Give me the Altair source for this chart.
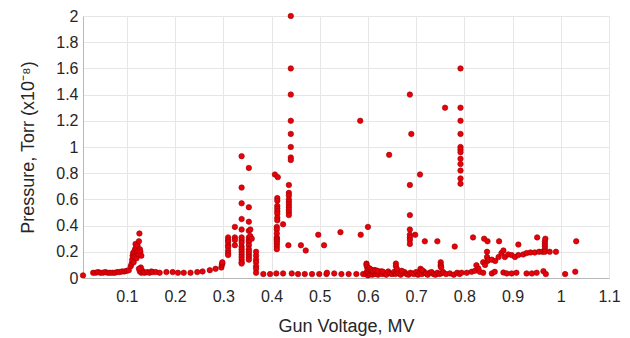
import altair as alt
import pandas as pd

# ---- data (Gun Voltage MV, Pressure x1e-8 Torr) ----
base1_v = [0.009, 0.03, 0.035, 0.04, 0.045, 0.05, 0.055, 0.06, 0.065, 0.07, 0.075, 0.08, 0.085, 0.09, 0.095, 0.1, 0.104]
base1_p = [0.02, 0.04, 0.04, 0.045, 0.04, 0.04, 0.045, 0.04, 0.04, 0.04, 0.04, 0.045, 0.045, 0.05, 0.05, 0.055, 0.06]

peak1_v = [0.108, 0.11, 0.111, 0.112, 0.113, 0.114, 0.115, 0.116, 0.117, 0.118, 0.119, 0.12, 0.121, 0.122, 0.123,
           0.124, 0.125, 0.126, 0.127, 0.128, 0.129, 0.13, 0.131, 0.127, 0.125]
peak1_p = [0.09, 0.11, 0.14, 0.17, 0.19, 0.12, 0.2, 0.16, 0.22, 0.26, 0.23, 0.15, 0.19, 0.25, 0.21,
           0.18, 0.28, 0.34, 0.22, 0.2, 0.08, 0.17, 0.06, 0.05, 0.07]

base2_v = [0.13, 0.134, 0.137, 0.142, 0.147, 0.151, 0.154, 0.16, 0.168, 0.182, 0.195, 0.206, 0.218, 0.232, 0.246,
           0.257, 0.272, 0.284, 0.296, 0.297, 0.298, 0.298]
base2_p = [0.04, 0.045, 0.04, 0.045, 0.04, 0.05, 0.045, 0.045, 0.04, 0.045, 0.045, 0.04, 0.04, 0.04, 0.045,
           0.05, 0.06, 0.07, 0.08, 0.1, 0.11, 0.12]

clus3_v = [0.31] * 8 + [0.324] * 4 + [0.338] * 16 + [0.353] * 13 + [0.356, 0.356, 0.359] + [0.368] * 7
clus3_p = [0.31, 0.29, 0.275, 0.25, 0.237, 0.21, 0.19, 0.175,
           0.39, 0.31, 0.29, 0.25,
           0.93, 0.69, 0.57, 0.45, 0.37, 0.31, 0.29, 0.27, 0.24, 0.22, 0.2, 0.18, 0.16, 0.14, 0.12, 0.11,
           0.84, 0.54, 0.43, 0.36, 0.31, 0.29, 0.275, 0.25, 0.22, 0.2, 0.18, 0.16, 0.14,
           0.37, 0.32, 0.3,
           0.2, 0.17, 0.14, 0.12, 0.09, 0.07, 0.04]

base3_v = [0.383, 0.397, 0.41, 0.424, 0.442, 0.455, 0.469, 0.484, 0.499, 0.514, 0.515, 0.53, 0.545, 0.56, 0.576, 0.59]
base3_p = [0.03, 0.03, 0.035, 0.035, 0.035, 0.03, 0.03, 0.03, 0.03, 0.03, 0.04, 0.035, 0.03, 0.03, 0.03, 0.03]

clus4_v = [0.407, 0.413] + [0.412] * 8 + [0.411] * 10 + [0.424, 0.435] + [0.436] * 10 + [0.44] * 8 + [0.461, 0.471]
clus4_p = [0.79, 0.77,
           0.61, 0.59, 0.55, 0.53, 0.51, 0.49, 0.46, 0.44,
           0.39, 0.37, 0.34, 0.31, 0.3, 0.29, 0.275, 0.26, 0.24, 0.22,
           0.41, 0.25,
           0.71, 0.65, 0.63, 0.6, 0.58, 0.56, 0.54, 0.52, 0.5, 0.48,
           2.0, 1.6, 1.4, 1.2, 1.1, 1.0, 0.92, 0.9,
           0.25, 0.21]

mid_v = [0.497, 0.509, 0.543, 0.584, 0.585, 0.6, 0.644, 0.687, 0.69, 0.687, 0.687, 0.687, 0.687, 0.687, 0.687,
         0.687, 0.698, 0.708, 0.718, 0.744, 0.76, 0.78] + [0.792] * 12
mid_p = [0.33, 0.25, 0.35, 1.2, 0.33, 0.39, 0.94, 1.4, 1.1, 0.71, 0.48, 0.37, 0.33, 0.31, 0.29,
         0.26, 0.33, 0.79, 0.28, 0.28, 1.3, 0.24,
         1.6, 1.3, 1.2, 1.1, 1.0, 0.98, 0.96, 0.91, 0.87, 0.82, 0.76, 0.72]

dense_v = [0.596, 0.598, 0.6, 0.601, 0.603, 0.605, 0.607, 0.609, 0.611, 0.613, 0.615, 0.618, 0.621, 0.624, 0.627,
           0.63, 0.634, 0.638, 0.642, 0.646, 0.65, 0.654, 0.657, 0.66, 0.664, 0.668, 0.672, 0.676, 0.68, 0.684,
           0.688, 0.692, 0.696, 0.7, 0.704, 0.708, 0.712, 0.716, 0.72, 0.724, 0.728, 0.732, 0.736, 0.74, 0.744,
           0.748, 0.752, 0.756, 0.762, 0.77, 0.778, 0.785, 0.79]
dense_p = [0.03, 0.05, 0.02, 0.04, 0.06, 0.03, 0.05, 0.025, 0.04, 0.06, 0.03, 0.045, 0.025, 0.04, 0.05,
           0.03, 0.04, 0.025, 0.05, 0.035, 0.03, 0.045, 0.03, 0.05, 0.035, 0.025, 0.04, 0.045, 0.03, 0.025,
           0.04, 0.035, 0.03, 0.045, 0.025, 0.04, 0.03, 0.05, 0.035, 0.025, 0.04, 0.045, 0.03, 0.025, 0.04,
           0.03, 0.035, 0.045, 0.03, 0.035, 0.025, 0.04, 0.03]

bump_v = [0.597, 0.597, 0.598, 0.6, 0.603, 0.606, 0.61, 0.615, 0.62, 0.63, 0.658, 0.658, 0.66, 0.67,
          0.709, 0.712, 0.751, 0.751, 0.751, 0.752]
bump_p = [0.11, 0.1, 0.085, 0.07, 0.075, 0.065, 0.055, 0.06, 0.055, 0.05, 0.11, 0.09, 0.07, 0.055,
          0.07, 0.06, 0.12, 0.1, 0.09, 0.08]

high_v = [0.818, 0.841, 0.848, 0.872, 0.912, 0.951, 1.032]
high_p = [0.31, 0.3, 0.28, 0.28, 0.255, 0.31, 0.28]

trend_v = [0.839, 0.843, 0.847, 0.847, 0.848, 0.85, 0.857, 0.864, 0.871, 0.877, 0.881, 0.884, 0.891, 0.898, 0.905,
           0.912, 0.922, 0.929, 0.937, 0.946, 0.955, 0.962, 0.967, 0.967, 0.967, 0.967, 0.967, 0.968, 0.977, 0.99]
trend_p = [0.12, 0.1, 0.2, 0.16, 0.13, 0.14, 0.14, 0.13, 0.16, 0.19, 0.21, 0.16, 0.18, 0.175, 0.16,
           0.175, 0.18, 0.19, 0.195, 0.195, 0.2, 0.2, 0.2, 0.22, 0.24, 0.26, 0.28, 0.3, 0.2, 0.2]

low_v = [0.794, 0.805, 0.815, 0.822, 0.825, 0.829, 0.832, 0.839, 0.857, 0.863, 0.881, 0.888, 0.898, 0.908,
         0.929, 0.94, 0.95, 0.964, 0.969, 1.009, 1.03]
low_p = [0.04, 0.04, 0.047, 0.055, 0.098, 0.073, 0.047, 0.04, 0.035, 0.047, 0.042, 0.035, 0.035, 0.04,
         0.035, 0.035, 0.04, 0.052, 0.03, 0.03, 0.048]

x_ticks = [0.1, 0.2, 0.3, 0.4, 0.5, 0.6, 0.7, 0.8, 0.9, 1.0, 1.1]
y_ticks = [0, 0.2, 0.4, 0.6, 0.8, 1.0, 1.2, 1.4, 1.6, 1.8, 2.0]

volts = base1_v + peak1_v + base2_v + clus3_v + base3_v + clus4_v + mid_v + dense_v + bump_v + high_v + trend_v + low_v
press = base1_p + peak1_p + base2_p + clus3_p + base3_p + clus4_p + mid_p + dense_p + bump_p + high_p + trend_p + low_p
df = pd.DataFrame({"v": volts, "p": press})

FONT = "Liberation Sans"
TXT = "#262626"

chart = alt.Chart(df).mark_point(
    filled=True, shape="circle", size=30, fill="#e8000b", stroke="#9a0000", strokeWidth=0.6, opacity=1
).encode(
    x=alt.X("v:Q",
            scale=alt.Scale(domain=[0.009, 1.1], nice=False, zero=False),
            axis=alt.Axis(values=x_ticks, format="~g", title="Gun Voltage, MV",
                          ticks=False, labelPadding=10, labelFontSize=16, labelColor=TXT,
                          labelFlush=False, labelOverlap=False,
                          titleFontSize=18, titleFontWeight="normal", titleColor=TXT,
                          titleY=48, titleBaseline="middle", titleX=263, titleAlign="center",
                          grid=True, gridColor="#e6e6e6", gridWidth=1,
                          domainColor="#b8b8b8", domainWidth=1, labelFont=FONT, titleFont=FONT)),
    y=alt.Y("p:Q",
            scale=alt.Scale(domain=[0, 2], nice=False, zero=True),
            axis=alt.Axis(values=y_ticks, format="~g", title="Pressure, Torr (x10⁻⁸)",
                          ticks=False, labelPadding=5, labelFontSize=16, labelColor=TXT,
                          labelFlush=False, labelOverlap=False,
                          titleFontSize=18, titleFontWeight="normal", titleColor=TXT,
                          titleX=-55, titleY=131, titleAngle=-90, titleAlign="center", titleBaseline="middle",
                          grid=True, gridColor="#e6e6e6", gridWidth=1,
                          domainColor="#b8b8b8", domainWidth=1, labelFont=FONT, titleFont=FONT)),
).properties(
    width=526, height=262,
    autosize=alt.AutoSizeParams(type="none"),
    padding={"left": 75, "top": 8, "right": 13, "bottom": 58},
).configure_view(stroke=None)

chart.save("out.html", embed_options={"renderer": "svg", "actions": False})
